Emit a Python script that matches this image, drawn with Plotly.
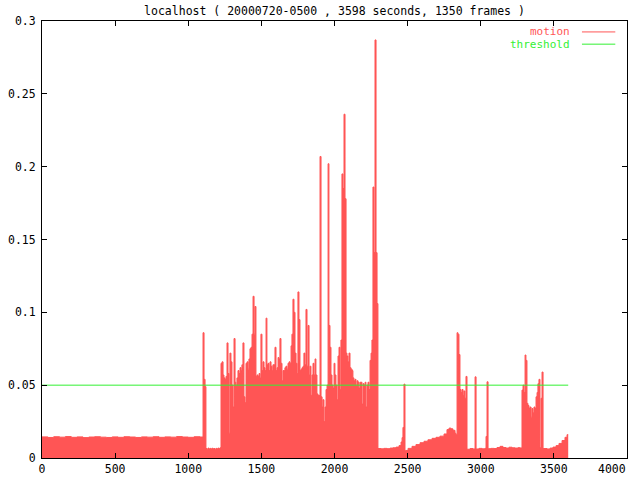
import plotly.graph_objects as go

MONO = "DejaVu Sans Mono, Liberation Mono, monospace"
RED = "#ff5555"
GREEN = "#33f033"

TITLE = "localhost ( 20000720-0500 , 3598 seconds, 1350 frames )"

x_ticks = [0, 500, 1000, 1500, 2000, 2500, 3000, 3500, 4000]
x_labels = ["0", "500", "1000", "1500", "2000", "2500", "3000", "3500", "4000"]

# quiet start of the session (seconds, motion)
quiet_t = [0, 40, 80, 120, 160, 200, 240, 280, 320, 360,
           400, 440, 480, 520, 560, 600, 640, 680, 720, 760,
           800, 840, 880, 920, 960, 1000, 1040, 1080]
quiet_v = [0.0145, 0.0141, 0.0146, 0.0143, 0.0147, 0.0142, 0.0145, 0.0140, 0.0144, 0.0146,
           0.0143, 0.0141, 0.0145, 0.0142, 0.0146, 0.0144, 0.0141, 0.0145, 0.0143, 0.0146,
           0.0142, 0.0145, 0.0143, 0.0147, 0.0144, 0.0142, 0.0146, 0.0144]

# busy middle part
busy_t = [1101, 1108, 1115, 1121, 1128, 1135, 1142, 1149, 1156, 1162,
          1169, 1176, 1183, 1190, 1197, 1203, 1210, 1217, 1224, 1231,
          1238, 1244, 1251, 1258, 1265, 1272, 1279, 1285, 1292, 1299,
          1306, 1313, 1320, 1326, 1333, 1340, 1347, 1354, 1361, 1367,
          1374, 1381, 1388, 1395, 1402, 1409, 1415, 1422, 1429, 1436,
          1443, 1450, 1456, 1463, 1470, 1477, 1484, 1491, 1497, 1504,
          1511, 1518, 1525, 1532, 1538, 1545, 1552, 1559, 1566, 1573,
          1579, 1586, 1593, 1600, 1607, 1614, 1620, 1627, 1634, 1641,
          1648, 1655, 1661, 1668, 1675, 1682, 1689, 1696, 1703, 1709,
          1716, 1723, 1730, 1737, 1744, 1750, 1757, 1764, 1771, 1778,
          1785, 1791, 1798, 1805, 1812, 1819, 1826, 1832, 1839, 1846,
          1853, 1860, 1867, 1873, 1880, 1887, 1894, 1901, 1908, 1915,
          1921, 1928, 1935, 1942, 1949, 1956, 1962, 1969, 1976, 1983,
          1990, 1997, 2003, 2010, 2017, 2024, 2031, 2038, 2044, 2051,
          2058, 2065, 2072, 2079, 2085, 2092, 2099, 2106, 2113, 2120,
          2126, 2133, 2140, 2147, 2154, 2161, 2167, 2174, 2181, 2188,
          2195, 2202, 2209, 2215, 2222, 2229, 2236, 2243, 2250, 2256,
          2263, 2270, 2277, 2284, 2291]
busy_v = [0.086, 0.054, 0.049, 0.0065, 0.0060, 0.0068, 0.0062, 0.0066, 0.0061, 0.0067,
          0.0063, 0.0065, 0.0060, 0.0066, 0.0062, 0.0068, 0.0064, 0.0070, 0.065, 0.066,
          0.057, 0.055, 0.054, 0.056, 0.079, 0.058, 0.017, 0.072, 0.066, 0.050,
          0.035, 0.082, 0.052, 0.050, 0.055, 0.060, 0.058, 0.062, 0.060, 0.064,
          0.079, 0.042, 0.038, 0.065, 0.066, 0.061, 0.068, 0.075, 0.076, 0.085,
          0.111, 0.085, 0.104, 0.056, 0.057, 0.056, 0.058, 0.055, 0.085, 0.060,
          0.066, 0.062, 0.060, 0.096, 0.064, 0.065, 0.060, 0.066, 0.063, 0.060,
          0.064, 0.064, 0.076, 0.060, 0.062, 0.069, 0.068, 0.082, 0.065, 0.053,
          0.060, 0.060, 0.062, 0.063, 0.061, 0.065, 0.066, 0.065, 0.077, 0.085,
          0.109, 0.100, 0.072, 0.065, 0.058, 0.114, 0.095, 0.060, 0.061, 0.062,
          0.063, 0.072, 0.064, 0.102, 0.063, 0.091, 0.057, 0.063, 0.043, 0.057,
          0.065, 0.057, 0.068, 0.057, 0.044, 0.043, 0.043, 0.207, 0.042, 0.035,
          0.040, 0.025, 0.035, 0.047, 0.050, 0.202, 0.091, 0.076, 0.057, 0.050,
          0.048, 0.065, 0.057, 0.050, 0.040, 0.070, 0.076, 0.047, 0.081, 0.195,
          0.185, 0.236, 0.178, 0.072, 0.070, 0.066, 0.072, 0.062, 0.061, 0.060,
          0.055, 0.053, 0.054, 0.050, 0.053, 0.052, 0.048, 0.052, 0.052, 0.037,
          0.051, 0.050, 0.052, 0.035, 0.050, 0.052, 0.047, 0.067, 0.072, 0.081,
          0.186, 0.141, 0.287, 0.141, 0.106]

# late part, mostly quiet with a few bursts
late_t = [2297, 2318, 2338, 2359, 2380, 2400, 2421, 2441, 2455, 2462,
          2468, 2475, 2482, 2489, 2503, 2530, 2557, 2585, 2612, 2639,
          2667, 2694, 2721, 2749, 2769, 2783, 2797, 2810, 2824, 2831,
          2838, 2844, 2851, 2858, 2865, 2872, 2879, 2885, 2892, 2899,
          2906, 2927, 2947, 2961, 2968, 2988, 3009, 3029, 3036, 3043,
          3050, 3070, 3091, 3111, 3132, 3152, 3173, 3193, 3214, 3234,
          3255, 3268, 3282, 3289, 3296, 3303, 3309, 3316, 3323, 3330,
          3337, 3344, 3350, 3357, 3364, 3371, 3378, 3385, 3391, 3398,
          3405, 3412, 3419, 3426, 3453, 3474, 3494, 3515, 3535, 3556,
          3576, 3590]
late_v = [0.0065, 0.0063, 0.0066, 0.0064, 0.0068, 0.0070, 0.0075, 0.0085, 0.0110, 0.0140,
          0.0210, 0.0507, 0.0050, 0.0052, 0.0066, 0.0080, 0.0092, 0.0105, 0.0115, 0.0125,
          0.0135, 0.0142, 0.0150, 0.0165, 0.0195, 0.0205, 0.0200, 0.0190, 0.0170, 0.0160,
          0.086, 0.085, 0.071, 0.047, 0.045, 0.047, 0.043, 0.046, 0.041, 0.056,
          0.0060, 0.0065, 0.0062, 0.0557, 0.0062, 0.0066, 0.0063, 0.0066, 0.0148, 0.0523,
          0.0064, 0.0066, 0.0065, 0.0072, 0.0080, 0.0072, 0.0068, 0.0074, 0.0070, 0.0068,
          0.0071, 0.0069, 0.0466, 0.050, 0.045, 0.0707, 0.067, 0.0375, 0.036, 0.034,
          0.035, 0.028, 0.034, 0.031, 0.035, 0.034, 0.042, 0.045, 0.051, 0.054,
          0.007, 0.041, 0.059, 0.0065, 0.0062, 0.0068, 0.0075, 0.0085, 0.0100, 0.0120,
          0.0142, 0.0160]

session_end = 3598
threshold_t = [0, session_end]
threshold_v = [0.05, 0.05]

assert len(quiet_t) == len(quiet_v)
assert len(busy_t) == len(busy_v)
assert len(late_t) == len(late_v)

seconds = quiet_t + busy_t + late_t + [session_end]
motion = quiet_v + busy_v + late_v + [late_v[-1]]

fig = go.Figure()

fig.add_trace(go.Scatter(
    x=seconds, y=motion,
    mode="lines",
    line=dict(color=RED, width=1, shape="hv"),
    fill="tozeroy", fillcolor=RED,
    name="motion", showlegend=False,
))

fig.add_trace(go.Scatter(
    x=threshold_t, y=threshold_v,
    mode="lines",
    line=dict(color=GREEN, width=1),
    name="threshold", showlegend=False,
))

axis_common = dict(
    showline=True, linecolor="black", linewidth=1,
    mirror="ticks", ticks="inside", ticklen=5, tickcolor="black",
    showgrid=False, zeroline=False,
    tickfont=dict(family=MONO, size=11.5, color="black"),
)

# the last x label would run past the picture edge, gnuplot pulls it inside;
# leave it off the axis and place it as a right-aligned text below the corner
fig.update_xaxes(range=[0, 4000], tickvals=x_ticks,
                 ticktext=x_labels[:-1] + [""], **axis_common)
fig.update_yaxes(range=[0, 0.3], dtick=0.05, tick0=0, ticklabelstandoff=3, **axis_common)

fig.add_annotation(
    xref="paper", yref="paper", x=1.0, y=0, yshift=-3,
    text=x_labels[-1], showarrow=False, xanchor="right", yanchor="top",
    font=dict(family=MONO, size=11.5, color="black"), borderpad=0,
)

# legend drawn gnuplot style: label on the left, sample line on the right
for label, color, ypos in [("motion", RED, 0.975), ("threshold", GREEN, 0.947)]:
    fig.add_annotation(
        xref="paper", yref="paper", x=0.905, y=ypos,
        text=label, showarrow=False, xanchor="right", yanchor="middle",
        font=dict(family=MONO, size=11, color=color),
        borderpad=0,
    )
    fig.add_shape(
        type="line", xref="paper", yref="paper",
        x0=0.923, x1=0.980, y0=ypos, y1=ypos,
        line=dict(color=color, width=1),
    )

fig.update_layout(
    width=640, height=480,
    title=dict(text=TITLE, x=0.5, xref="paper", xanchor="center",
               y=1 - 11 / 480, yref="container", yanchor="middle",
               font=dict(family=MONO, size=11.5, color="black")),
    margin=dict(l=42, r=13, t=21, b=22, autoexpand=False),
    plot_bgcolor="white",
    paper_bgcolor="white",
    showlegend=False,
)

# page body has a default 8px margin; drop it so the figure fills the window
fig.write_html("out.html", config={"displayModeBar": False},
               post_script="document.body.style.margin='0';")
